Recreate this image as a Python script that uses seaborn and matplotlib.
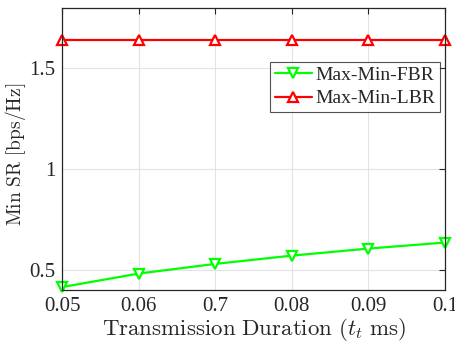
import pandas as pd
import numpy as np
import matplotlib.pyplot as plt
import seaborn as sns

# values
durations = ['0.05', '0.06', '0.7', '0.08', '0.09', '0.1']
fbr = [0.415, 0.482, 0.530, 0.571, 0.606, 0.636]
lbr = [1.642, 1.642, 1.642, 1.642, 1.642, 1.642]

df = pd.DataFrame({
    'duration': durations * 2,
    'sr': fbr + lbr,
    'scheme': ['Max-Min-FBR'] * 6 + ['Max-Min-LBR'] * 6,
})

sns.set_style('whitegrid')
plt.rcParams['font.family'] = ['Liberation Serif', 'DejaVu Serif']
plt.rcParams['mathtext.fontset'] = 'cm'

fig = plt.figure(figsize=(4.56, 3.47), dpi=100)
ax = fig.add_axes([0.136, 0.164, 0.840, 0.813])

sns.lineplot(data=df, x='duration', y='sr', hue='scheme', style='scheme',
             markers={'Max-Min-FBR': 'v', 'Max-Min-LBR': '^'}, dashes=False,
             palette={'Max-Min-FBR': '#00ff00', 'Max-Min-LBR': '#ff0000'},
             sort=False, linewidth=1.6, markersize=6.5, ax=ax, clip_on=False,
             markerfacecolor='white', markeredgewidth=1.6)
for ln in ax.lines:
    ln.set_markeredgecolor(ln.get_color())

ax.set_xlim(0, 5)
ax.set_ylim(0.4, 1.8)
ax.set_yticks([0.5, 1, 1.5])
ax.set_yticklabels(['0.5', '1', '1.5'])
ax.tick_params(direction='in', top=True, right=True, labelsize=15, length=4,
               color='#262626', pad=5)
for sp in ax.spines.values():
    sp.set_color('#262626')
    sp.set_linewidth(0.9)
ax.grid(True, color='#e3e3e3', linewidth=0.8)

ax.set_xlabel(r'$\mathrm{Transmission\ Duration\ (}t_t\mathrm{\ ms)}$', fontsize=16.5, labelpad=0)
ax.set_ylabel(r'$\mathrm{Min\ SR\ [bps/Hz]}$', fontsize=14)
ax.yaxis.set_label_coords(-0.09, 0.48)

leg = ax.legend(loc='upper right', bbox_to_anchor=(0.988, 0.81), borderaxespad=0,
                fontsize=14, frameon=True, fancybox=False, edgecolor='#262626',
                borderpad=0.25, handlelength=1.9, handletextpad=0.2, labelspacing=0.3)
leg.get_frame().set_linewidth(0.8)
for h in leg.get_lines():
    h.set_markerfacecolor('white')
    h.set_markeredgecolor(h.get_color())
    h.set_markeredgewidth(1.6)

plt.savefig('out.png', dpi=100)
plt.close()
